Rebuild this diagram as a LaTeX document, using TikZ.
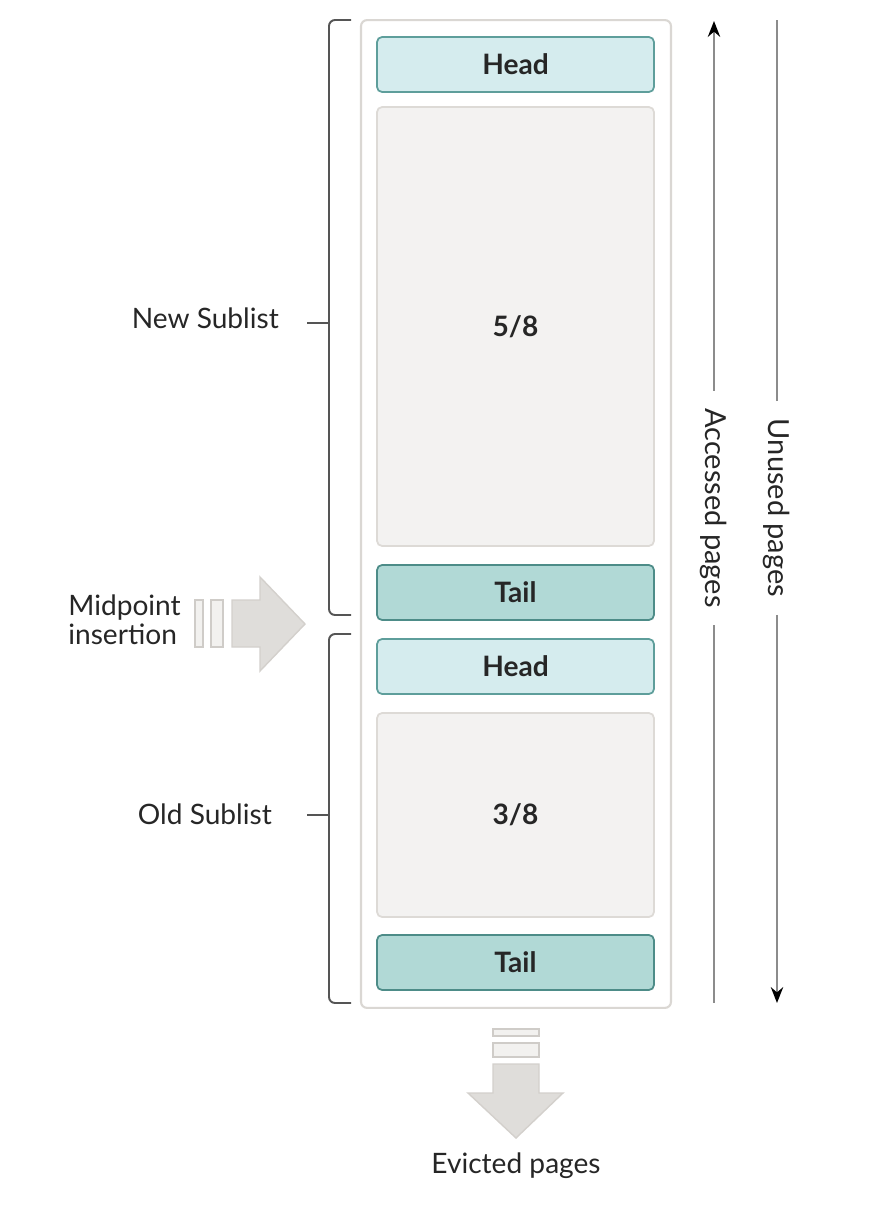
\documentclass[tikz,border=0pt]{standalone}
\usepackage{fontspec}
\setmainfont{Lato}
\usetikzlibrary{arrows.meta}
\definecolor{headfill}{HTML}{D5ECEE}
\definecolor{headdraw}{HTML}{5E9E9B}
\definecolor{tailfill}{HTML}{B1D9D6}
\definecolor{taildraw}{HTML}{4D8C88}
\definecolor{grayfill}{HTML}{F3F2F1}
\definecolor{graydraw}{HTML}{DDDAD6}
\definecolor{outerdraw}{HTML}{DAD7D3}
\definecolor{arrfill}{HTML}{DFDDDA}
\definecolor{arrdraw}{HTML}{D3D0CC}
\definecolor{smallfill}{HTML}{F2F1EF}
\definecolor{smalldraw}{HTML}{CFCCC8}
\definecolor{bracecol}{HTML}{555555}
\definecolor{vlinecol}{HTML}{8C8C8C}
\definecolor{txtcol}{HTML}{262626}
\begin{document}
\begin{tikzpicture}[x=0.02cm,y=-0.02cm,
  every node/.style={text=txtcol,font=\fontsize{16}{18}\selectfont},
  outerbox/.style={draw=outerdraw,fill=white,line width=1.2pt,rounded corners=0.12cm,minimum width=6.2cm,minimum height=19.76cm,inner sep=0pt},
  headbox/.style={draw=headdraw,fill=headfill,line width=1pt,rounded corners=0.1cm,minimum width=5.54cm,minimum height=1.1cm,inner sep=0pt,font=\fontsize{16}{18}\selectfont\bfseries},
  tailbox/.style={draw=taildraw,fill=tailfill,line width=1pt,rounded corners=0.1cm,minimum width=5.54cm,minimum height=1.1cm,inner sep=0pt,font=\fontsize{16}{18}\selectfont\bfseries},
  graybox/.style={draw=graydraw,fill=grayfill,line width=1pt,rounded corners=0.1cm,minimum width=5.54cm,inner sep=0pt,font=\fontsize{16}{18}\selectfont\bfseries},
  bracket/.style={draw=bracecol,line width=1.1pt,rounded corners=0.12cm},
  vline/.style={draw=vlinecol,line width=1.3pt},
  bigarrow/.style={draw=arrdraw,fill=arrfill,line width=0.8pt},
  smallrect/.style={draw=smalldraw,fill=smallfill,line width=0.8pt},
  vtext/.style={rotate=-90,inner sep=0pt,font=\fontsize{16.5}{18}\selectfont}
]
\useasboundingbox (0,0) rectangle (877,1205);

% container
\node[outerbox] (outer) at (516,514) {};
\node[headbox] (head1) at (515.5,64.5) {Head};
\node[graybox,minimum height=8.78cm] (new) at (515.5,326.5) {5/8};
\node[tailbox] (tail1) at (515.5,592.5) {Tail};
\node[headbox] (head2) at (515.5,666.5) {Head};
\node[graybox,minimum height=4.08cm] (old) at (515.5,815) {3/8};
\node[tailbox] (tail2) at (515.5,962.5) {Tail};

% brackets
\coordinate (nbt) at (351,20);
\coordinate (nbb) at (351,615);
\coordinate (nbm) at (329,323);
\draw[bracket] (nbt) -- (329,20) -- (329,615) -- (nbb);
\node[anchor=east] (newlab) at (285,318) {New Sublist};
\draw[bracket,rounded corners=0pt] (307,323) -- (nbm);

\coordinate (obt) at (351,634);
\coordinate (obb) at (351,1003);
\coordinate (obm) at (329,815);
\draw[bracket] (obt) -- (329,634) -- (329,1003) -- (obb);
\node[anchor=east] (oldlab) at (278,814) {Old Sublist};
\draw[bracket,rounded corners=0pt] (307,815) -- (obm);

% midpoint insertion
\node[anchor=west,align=left,inner sep=0pt,font=\fontsize{16}{16.5}\selectfont] (midlab) at (68,620) {Midpoint\\insertion};
\draw[smallrect] (195,600) rectangle (203,647);
\draw[smallrect] (211,600) rectangle (223,647);
\draw[bigarrow] (232,600) -- (260,600) -- (260,577) -- (305,624) -- (260,671) -- (260,647) -- (232,647) -- cycle;

% evicted
\draw[smallrect] (493,1029) rectangle (539,1036);
\draw[smallrect] (493,1043) rectangle (539,1057);
\draw[bigarrow] (493,1064) -- (539,1064) -- (539,1093) -- (563,1093) -- (516,1138) -- (468,1093) -- (493,1093) -- cycle;
\node (evlab) at (516,1166) {Evicted pages};

% accessed pages
\node[vtext] (acc) at (714,508) {Accessed pages};
\coordinate (acctop) at (714,21);
\coordinate (accbot) at (714,1003);
\draw[vline,-{Stealth[color=black,length=9pt,width=7pt]}] ([yshift=10pt]acc.west) -- (acctop);
\draw[vline] ([yshift=-10pt]acc.east) -- (accbot);

% unused pages
\node[vtext] (unu) at (777,508) {Unused pages};
\coordinate (unutop) at (777,20);
\coordinate (unubot) at (777,1003);
\draw[vline] ([yshift=10pt]unu.west) -- (unutop);
\draw[vline,-{Stealth[color=black,length=9pt,width=7pt]}] ([yshift=-10pt]unu.east) -- (unubot);
\end{tikzpicture}
\end{document}
